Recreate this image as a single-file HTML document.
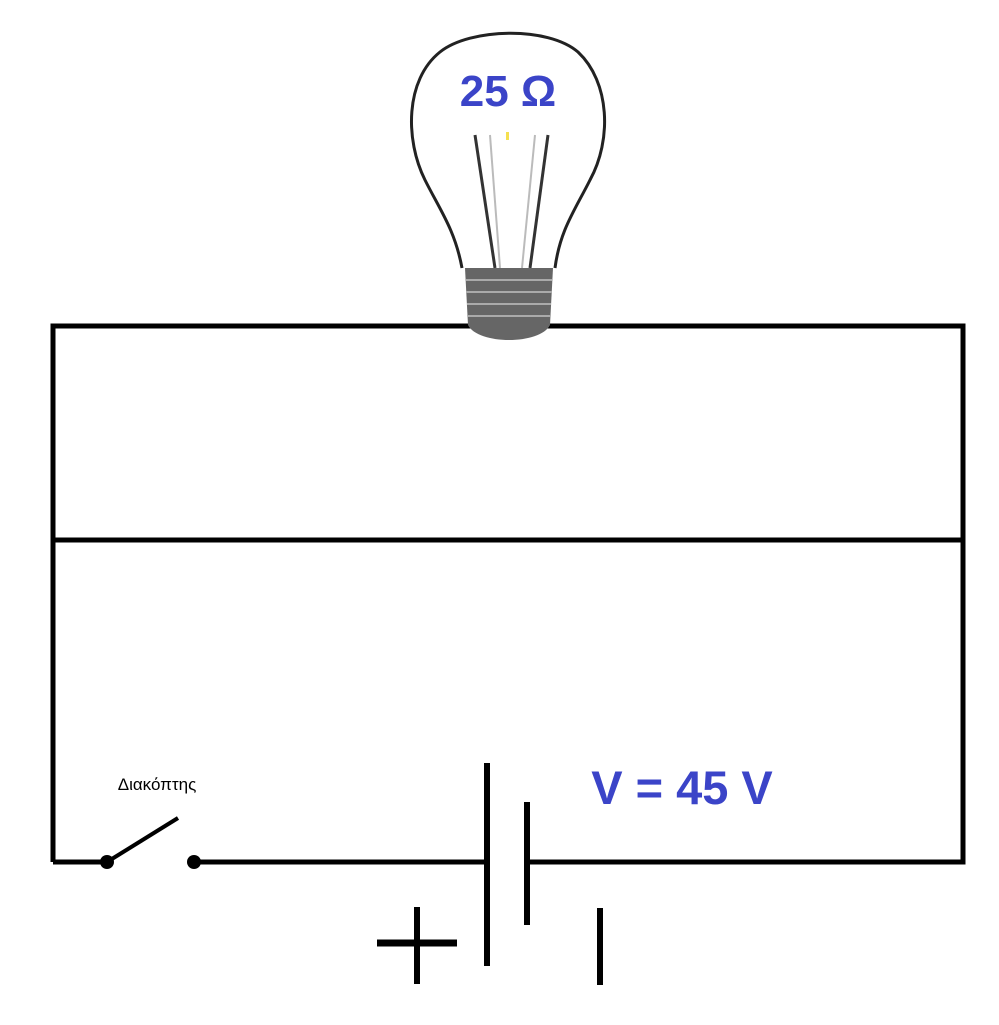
<!DOCTYPE html>
<html><head><meta charset="utf-8"><style>body{margin:0;background:#fff;width:999px;height:1020px;overflow:hidden}</style></head><body>
<svg width="999" height="1020" viewBox="0 0 999 1020" xmlns="http://www.w3.org/2000/svg">
<g stroke="#000" stroke-width="5" fill="none">
<path d="M53,862 V326 H963 V862 H527"/>
<line x1="53" y1="540" x2="963" y2="540"/>
<line x1="53" y1="862" x2="107" y2="862"/>
<line x1="194" y1="862" x2="487" y2="862"/>
<line x1="487" y1="763" x2="487" y2="966" stroke-width="6"/>
<line x1="527" y1="802" x2="527" y2="925" stroke-width="6"/>
<line x1="377" y1="943" x2="457" y2="943" stroke-width="7"/>
<line x1="417" y1="907" x2="417" y2="984" stroke-width="6"/>
<line x1="600" y1="908" x2="600" y2="985" stroke-width="6"/>
<line x1="107" y1="862" x2="178" y2="818" stroke-width="4"/>
</g>
<circle cx="107" cy="862" r="7"/>
<circle cx="194" cy="862" r="7"/>
<path d="M462,268 C455,230 440,210 425,180 C405,140 405,80 440,52 C470,28 548,26 578,52 C610,82 612,140 590,180 C575,210 560,230 555,268" fill="#fff" stroke="#222" stroke-width="3"/>
<g stroke="#333" stroke-width="3" fill="none">
<path d="M475,135 L495,268"/><path d="M548,135 L530,268"/>
<path d="M490,135 L500,268" stroke="#bbb" stroke-width="2"/>
<path d="M535,135 L522,268" stroke="#bbb" stroke-width="2"/>
</g>
<path d="M465,268 H553 L550,325 C540,345 478,345 468,325 Z" fill="#666"/>
<g stroke="#aaa" stroke-width="2">
<line x1="466" y1="280" x2="552" y2="280"/><line x1="466" y1="292" x2="552" y2="292"/>
<line x1="467" y1="304" x2="551" y2="304"/><line x1="468" y1="316" x2="550" y2="316"/>
</g>
<rect x="506" y="132" width="3" height="8" fill="#f5e050"/>
<text x="508" y="106" text-anchor="middle" font-family="Liberation Sans, sans-serif" font-weight="bold" font-size="44" fill="#3b44c8">25 Ω</text>
<text x="682" y="804" text-anchor="middle" font-family="Liberation Sans, sans-serif" font-weight="bold" font-size="47" fill="#3b44c8">V = 45 V</text>
<text x="157" y="790" text-anchor="middle" font-family="Liberation Sans, sans-serif" font-size="17" fill="#000">Διακόπτης</text>
</svg>
</body></html>
